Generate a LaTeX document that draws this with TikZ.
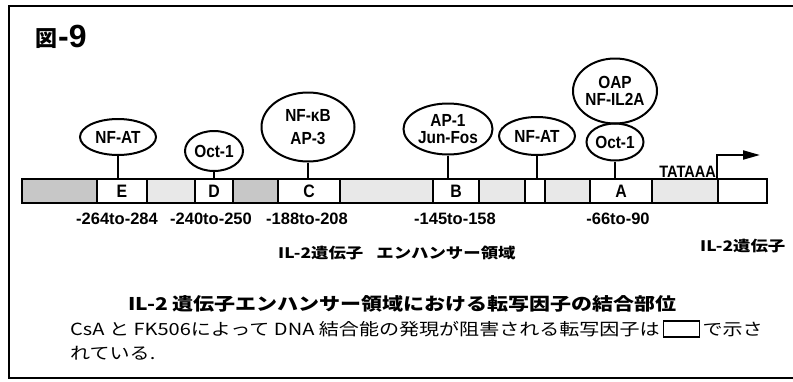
\documentclass[tikz,border=0pt]{standalone}
\usepackage{fontspec}
\setmainfont{Liberation Sans}
\newfontfamily\cond[FakeStretch=0.88]{Liberation Sans}
\newfontfamily\jpfont[FakeStretch=1.2]{Noto Sans CJK JP}
\newfontfamily\jpn{Noto Sans CJK JP}
\usetikzlibrary{arrows.meta,shapes.geometric}
\begin{document}
\begin{tikzpicture}[x=1pt,y=-1pt,
  seg/.style={draw,line width=2pt,inner sep=0pt,minimum height=24pt,
    font=\cond\bfseries\fontsize{18}{18}\selectfont},
  dark/.style={fill=black!22},
  light/.style={fill=black!9},
  tf/.style={draw,ellipse,line width=2pt,inner sep=0pt,align=center,
    font=\cond\bfseries\fontsize{17.5}{17}\selectfont},
  stem/.style={line width=2pt},
  poslab/.style={font=\bfseries\fontsize{16.5}{17}\selectfont},
  jplab/.style={font=\jpfont\bfseries\fontsize{14.5}{15}\selectfont},
  captext/.style={font=\jpfont\fontsize{16.7}{18}\selectfont,inner sep=0pt},
]
\useasboundingbox (0,0) rectangle (793,381);
% frame
\draw[line width=1.5pt] (793,6) -- (9,6) -- (9,378) -- (793,378);
% figure number
\node[font=\jpn\bfseries\fontsize{22}{22}\selectfont,inner sep=0pt] (fign) at (46,39) {図};
\node[font=\bfseries\fontsize{32}{32}\selectfont,anchor=base west,inner sep=0pt] (fignum) at (58,47) {-9};
% DNA bar segments
\node[seg,dark,minimum width=75pt] (s1) at (59.5,191) {};
\node[seg,minimum width=50pt] (E) at (122,191) {E};
\node[seg,light,minimum width=48pt] (s2) at (171,191) {};
\node[seg,minimum width=38pt] (D) at (214,191) {D};
\node[seg,dark,minimum width=45pt] (s3) at (255.5,191) {};
\node[seg,minimum width=62pt] (C) at (309,191) {C};
\node[seg,light,minimum width=93pt] (s4) at (386.5,191) {};
\node[seg,minimum width=46pt] (B) at (456,191) {B};
\node[seg,light,minimum width=46pt] (s5) at (502,191) {};
\node[seg,minimum width=20pt] (W) at (535,191) {};
\node[seg,light,minimum width=45pt] (s6) at (567.5,191) {};
\node[seg,minimum width=62pt] (A) at (621,191) {A};
\node[seg,light,minimum width=66pt] (s7) at (685,191) {};
\node[seg,minimum width=49pt] (G) at (742.5,191) {};
% transcription factors
\node[tf,minimum width=76pt,minimum height=36pt] (e1) at (118,137) {NF-AT};
\node[tf,minimum width=58pt,minimum height=40pt] (e2) at (214,151) {Oct-1};
\node[tf,minimum width=93pt,minimum height=69pt] (e3) at (308,127) {NF-κB\\[6pt]AP-3};
\node[tf,minimum width=89pt,minimum height=51pt] (e4) at (448,129) {AP-1\\Jun-Fos};
\node[tf,minimum width=76pt,minimum height=38pt] (e5) at (537,136) {NF-AT};
\node[tf,minimum width=57pt,minimum height=37pt] (e6) at (615,142) {Oct-1};
\node[tf,minimum width=84pt,minimum height=65pt] (e7) at (615,91) {OAP\\NF-IL2A};
% stems
\draw[stem] (e1.south) -- (e1.south |- E.north);
\draw[stem] (e2.south) -- (e2.south |- D.north);
\draw[stem] (e3.south) -- (e3.south |- C.north);
\draw[stem] (e4.south) -- (e4.south |- B.north);
\draw[stem] (e5.south) -- (e5.south |- W.north);
\draw[stem] (e6.south) -- (e6.south |- A.north);
% TATA and start arrow
\node[font=\cond\bfseries\fontsize{16.5}{16}\selectfont,anchor=base east,inner sep=0pt] (tata) at (716,177) {TATAAA};
\coordinate (tip) at (760,155);
\draw[line width=2pt,-{Triangle[length=17pt,width=9pt]}] (G.north west) |- (tip);
% positions
\node[poslab] (p1) at (117,219) {-264to-284};
\node[poslab] (p2) at (211,219) {-240to-250};
\node[poslab] (p3) at (307,219) {-188to-208};
\node[poslab] (p4) at (455,219) {-145to-158};
\node[poslab] (p5) at (618,219) {-66to-90};
% region labels
\node[jplab,anchor=west,inner sep=0pt] (enh) at (278,253) {IL-2遺伝子\hspace{0.9em}エンハンサー領域};
\node[jplab,anchor=west,inner sep=0pt] (gene) at (700,246) {IL-2遺伝子};
% caption
\node[font=\jpfont\bfseries\fontsize{17.5}{18}\selectfont,anchor=west,inner sep=0pt] (cap1) at (128,304) {IL-2 遺伝子エンハンサー領域における転写因子の結合部位};
\node[captext,anchor=west] (cap2a) at (70,329) {CsA と FK506によって DNA 結合能の発現が阻害される転写因子は};
\node[draw,line width=1.5pt,inner sep=0pt,minimum width=36pt,minimum height=16pt,anchor=west] (keybox) at ([xshift=3pt]cap2a.east) {};
\node[captext,anchor=west] (cap2b) at ([xshift=2pt]keybox.east) {で示さ};
\node[captext,anchor=west] (cap3) at (70,353) {れている.};
\end{tikzpicture}
\end{document}
